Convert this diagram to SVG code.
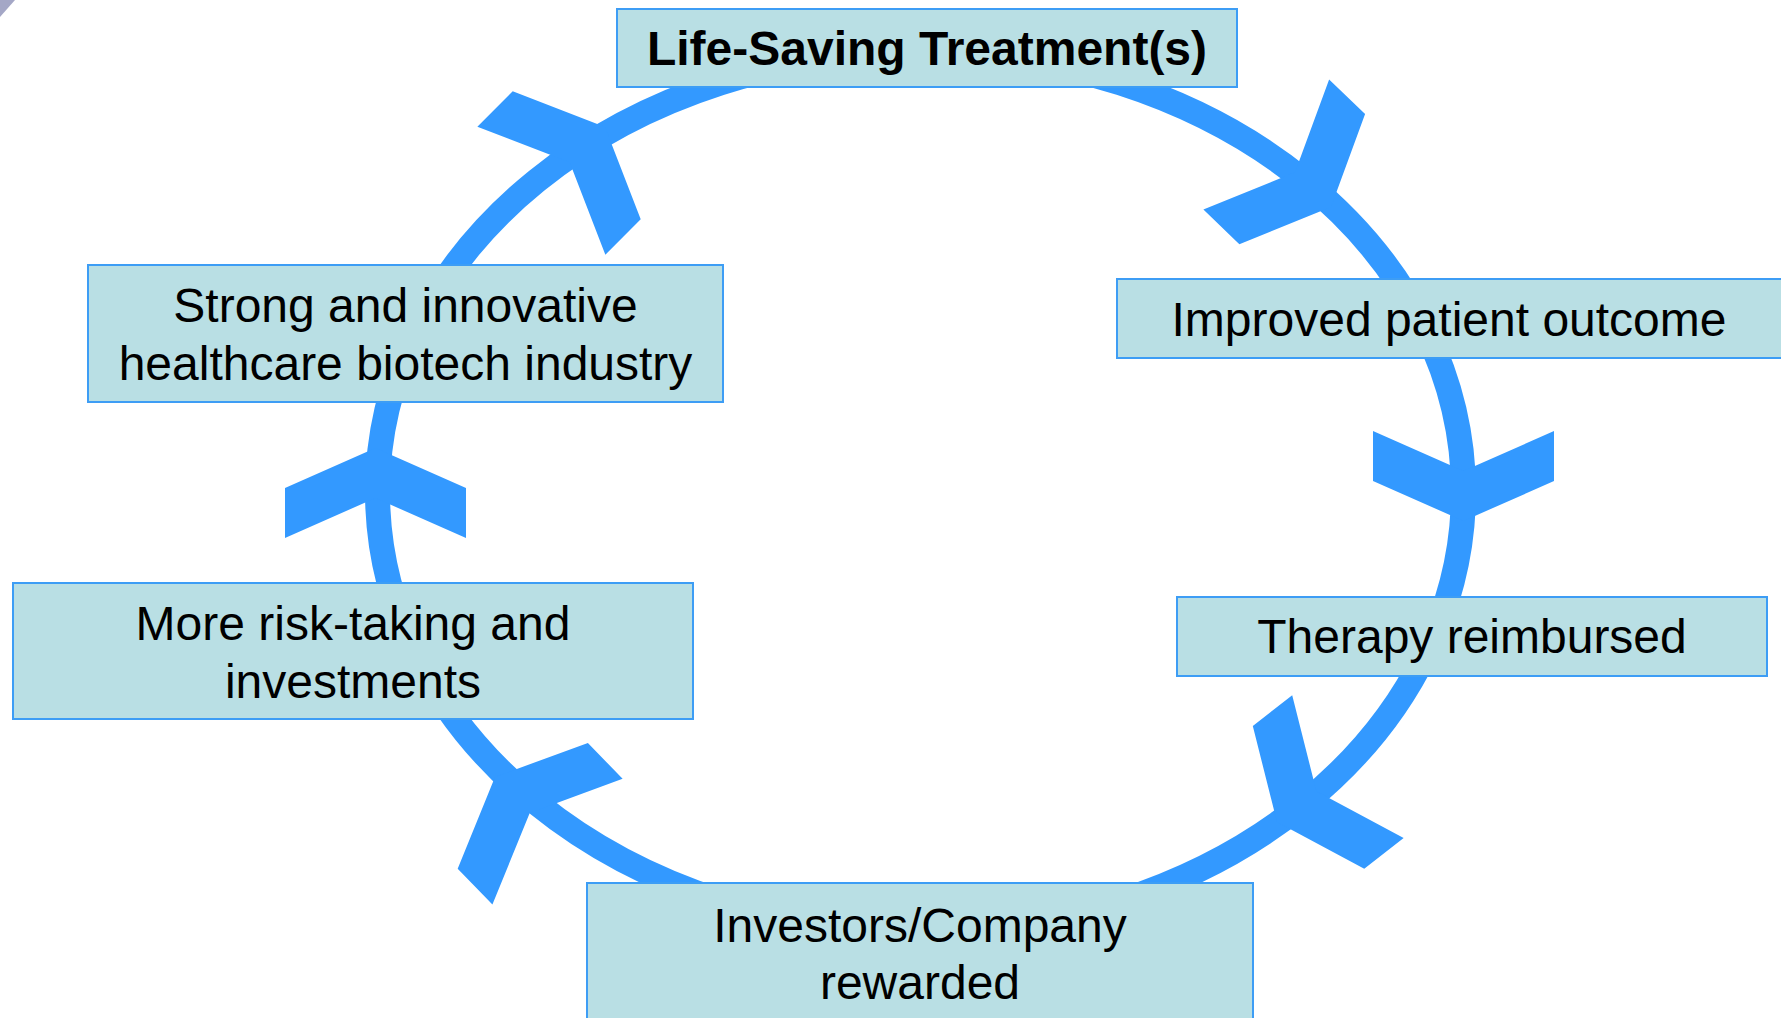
<svg xmlns="http://www.w3.org/2000/svg" width="1781" height="1018" viewBox="0 0 1781 1018">
  <style>
    .box { fill: #b9dfe4; stroke: #3d9df5; stroke-width: 2; }
    .lbl { font-family: "Liberation Sans", Arial, sans-serif; font-size: 48px; fill: #000; text-anchor: middle; }
    .title { font-weight: bold; }
    .ring { fill: none; stroke: #3399ff; stroke-width: 25; }
    .arrow { fill: #3399ff; }
  </style>
  <defs>
    <path id="chev" d="M0,0 L-40,90.5 L-90,90.5 L-50,0 L-90,-90.5 L-40,-90.5 Z"/>
  </defs>
  <rect width="1781" height="1018" fill="#ffffff"/>
  <polygon points="0,0 15,0 0,17" fill="#a4a7c6"/>

  <g id="connectors">
    <ellipse class="ring" cx="920.5" cy="492" rx="543" ry="440"/>
    <use href="#chev" class="arrow" transform="translate(605,127) rotate(-45)"/>
    <use href="#chev" class="arrow" transform="translate(1331,207) rotate(44)"/>
    <use href="#chev" class="arrow" transform="translate(1463.5,521) rotate(90)"/>
    <use href="#chev" class="arrow" transform="translate(1277,822) rotate(142)"/>
    <use href="#chev" class="arrow" transform="translate(495,777) rotate(-134)"/>
    <use href="#chev" class="arrow" transform="translate(375.5,448) rotate(-90)"/>
  </g>

  <g id="node-treatment">
    <rect class="box" x="617" y="9" width="620" height="78"/>
    <text class="lbl title" x="927" y="65">Life-Saving Treatment(s)</text>
  </g>
  <g id="node-outcome">
    <rect class="box" x="1117" y="279" width="668" height="79"/>
    <text class="lbl" x="1449" y="336">Improved patient outcome</text>
  </g>
  <g id="node-reimbursed">
    <rect class="box" x="1177" y="597" width="590" height="79"/>
    <text class="lbl" x="1472" y="653">Therapy reimbursed</text>
  </g>
  <g id="node-rewarded">
    <rect class="box" x="587" y="883" width="666" height="160"/>
    <text class="lbl" x="920" y="942">Investors/Company</text>
    <text class="lbl" x="920" y="999">rewarded</text>
  </g>
  <g id="node-risk">
    <rect class="box" x="13" y="583" width="680" height="136"/>
    <text class="lbl" x="353" y="639.5">More risk-taking and</text>
    <text class="lbl" x="353" y="697.5">investments</text>
  </g>
  <g id="node-industry">
    <rect class="box" x="88" y="265" width="635" height="137"/>
    <text class="lbl" x="405.5" y="322">Strong and innovative</text>
    <text class="lbl" x="405.5" y="380">healthcare biotech industry</text>
  </g>
</svg>
